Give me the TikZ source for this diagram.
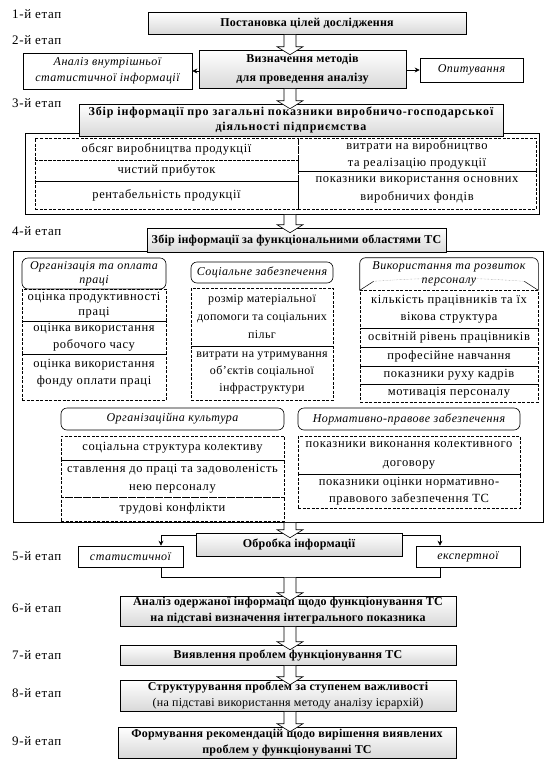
\documentclass[tikz,border=0pt]{standalone}
\usepackage{fontspec}
\setmainfont{Liberation Serif}
\usetikzlibrary{arrows.meta,calc}

% hollow block arrow between two points on the main axis
\newcommand{\blockarrow}[2]{%
  \draw[blockar] let \p1=(#1), \p2=(#2) in
    (\x1-6pt,\y1-0.5pt) -- (\x1-6pt,\y2+3pt) -- (\x1-13pt,\y2+3pt) -- (\x1,\y2-5pt)
    -- (\x1+13pt,\y2+3pt) -- (\x1+6pt,\y2+3pt) -- (\x1+6pt,\y1-0.5pt);}

\begin{document}
\begin{tikzpicture}[x=1pt, y=-1pt,
    gbox/.style={rectangle, draw, line width=0.6pt, top color=white, bottom color=gray!30, align=center, inner sep=1pt, font=\fontsize{12}{16}\selectfont\bfseries\addfontfeature{LetterSpace=2}},
    sidebox/.style={rectangle, draw, line width=0.6pt, fill=white, align=center, inner sep=1pt, font=\fontsize{12}{16}\selectfont\itshape\addfontfeature{LetterSpace=4}},
    frame/.style={rectangle, draw, line width=0.6pt, fill=white},
    dbox/.style={rectangle, draw, dash pattern=on 3pt off 1.5pt, line width=0.9pt, align=center, inner sep=1pt, font=\fontsize{12.5}{16}\selectfont\addfontfeature{LetterSpace=5}},
    hbox/.style={rectangle, draw, line width=0.6pt, rounded corners=6pt, align=center, inner sep=1pt, font=\fontsize{12}{14}\selectfont\itshape\addfontfeature{LetterSpace=4}},
    stage/.style={anchor=west, inner sep=0pt, font=\fontsize{13}{15}\selectfont\addfontfeature{LetterSpace=5}},
    conn/.style={line width=0.6pt, -{Stealth[length=5pt,width=5pt]}},
    blockar/.style={fill=white, line width=0.6pt}
]
\useasboundingbox (0,0) rectangle (551,763);
\coordinate (axis) at (290,0);

% stage labels
\node[stage] (s1) at (12,14) {1-й етап};
\node[stage] (s2) at (12,40) {2-й етап};
\node[stage] (s3) at (12,103) {3-й етап};
\node[stage] (s4) at (12,231) {4-й етап};
\node[stage] (s5) at (12,556) {5-й етап};
\node[stage] (s6) at (12,608) {6-й етап};
\node[stage] (s7) at (12,655) {7-й етап};
\node[stage] (s8) at (12,693) {8-й етап};
\node[stage] (s9) at (12,741) {9-й етап};

% stages 1 and 2
\node[gbox, minimum width=318pt, minimum height=22pt] (goal) at (307,23) {Постановка цілей дослідження};
\node[gbox, minimum width=207pt, minimum height=38pt, font=\fontsize{12}{19}\selectfont\bfseries\addfontfeature{LetterSpace=2}] (methods) at (302.5,69) {Визначення методів\\для проведення аналізу};
\node[sidebox, minimum width=169pt, minimum height=36pt] (internal) at (107.5,71) {Аналіз внутрішньої\\статистичної інформації};
\node[sidebox, minimum width=103pt, minimum height=24pt] (survey) at (471.5,70) {Опитування};
\draw[conn] (methods.west |- internal.east) -- (internal.east);
\draw[conn] (methods.east |- survey.west) -- (survey.west);

% stage 3
\node[frame, minimum width=514pt, minimum height=81pt] (frame3) at (282,173.5) {};
\node[gbox, minimum width=424pt, minimum height=32pt, font=\fontsize{12}{15}\selectfont\bfseries\addfontfeature{LetterSpace=7}] (general) at (291,120) {Збір інформації про загальні показники виробничо-господарської\\діяльності підприємства};
\node[dbox, minimum width=263pt, minimum height=22pt] (output) at (166.5,149) {обсяг виробництва продукції};
\node[dbox, minimum width=263pt, minimum height=21pt] (profit) at (166.5,170.5) {чистий прибуток};
\node[dbox, minimum width=263pt, minimum height=28pt] (return) at (166.5,195) {рентабельність продукції};
\node[dbox, minimum width=238pt, minimum height=33pt, font=\fontsize{12.5}{17}\selectfont\addfontfeature{LetterSpace=5}] (costs) at (417,154.5) {витрати на виробництво\\та реалізацію продукції};
\node[dbox, minimum width=238pt, minimum height=38pt, font=\fontsize{12.5}{18}\selectfont\addfontfeature{LetterSpace=5}] (assets) at (417,190) {показники використання основних\\виробничих фондів};

% stage 4
\node[frame, minimum width=530pt, minimum height=271pt] (frame4) at (278,386.5) {};
\node[gbox, minimum width=299pt, minimum height=24pt] (areas) at (296.5,240) {Збір інформації за функціональними областями ТС};

\node[hbox, minimum width=144pt, minimum height=31pt] (labour) at (94,273.5) {Організація та оплата\\праці};
\node[dbox, minimum width=144pt, minimum height=32pt, font=\fontsize{12.5}{15}\selectfont\addfontfeature{LetterSpace=5}] (prod) at (94,305) {оцінка продуктивності\\праці};
\node[dbox, minimum width=144pt, minimum height=33pt, font=\fontsize{12.5}{17}\selectfont\addfontfeature{LetterSpace=5}] (worktime) at (94,337.5) {оцінка використання\\робочого часу};
\node[dbox, minimum width=144pt, minimum height=46pt, font=\fontsize{12.5}{17}\selectfont\addfontfeature{LetterSpace=5}] (payfund) at (94,377) {оцінка використання\\фонду оплати праці\\[-6pt]\mbox{}};

\node[hbox, minimum width=142pt, minimum height=21pt] (social) at (262,272.5) {Соціальне забезпечення};
\node[dbox, minimum width=142pt, minimum height=58pt, font=\fontsize{12}{18}\selectfont\addfontfeature{LetterSpace=3}] (aid) at (262,317) {розмір матеріальної\\допомоги та соціальних\\пільг};
\node[dbox, minimum width=142pt, minimum height=54pt, font=\fontsize{12}{17}\selectfont\addfontfeature{LetterSpace=3}] (infra) at (262,373) {витрати на утримування\\об’єктів соціальної\\інфраструктури};

\node[hbox, draw=none, minimum width=178pt, minimum height=32pt] (staff) at (449,274) {Використання та розвиток\\персоналу};
\draw[line width=0.6pt, rounded corners=6pt] (staff.south west) -- (staff.north west) -- (staff.north east) -- (staff.south east);
\draw[line width=0.5pt] (staff.south west) -- ([xshift=14pt,yshift=9pt]staff.south west);
\draw[line width=0.5pt] (staff.south east) -- ([xshift=-14pt,yshift=9pt]staff.south east);
\draw[densely dotted, gray] ([xshift=14pt,yshift=9pt]staff.south west) to[bend left=4] ([xshift=-14pt,yshift=9pt]staff.south east);
\node[dbox, minimum width=178pt, minimum height=38pt, font=\fontsize{12.5}{17}\selectfont\addfontfeature{LetterSpace=5}] (age) at (449,309) {кількість працівників та їх\\вікова структура};
\node[dbox, minimum width=178pt, minimum height=19pt] (educ) at (449,337.5) {освітній рівень працівників};
\node[dbox, minimum width=178pt, minimum height=19pt] (train) at (449,356.5) {професійне навчання};
\node[dbox, minimum width=178pt, minimum height=18pt] (turnover) at (449,375) {показники руху кадрів};
\node[dbox, minimum width=178pt, minimum height=18pt] (motiv) at (449,393) {мотивація персоналу};

\node[hbox, minimum width=223pt, minimum height=22pt] (culture) at (172.5,419) {Організаційна культура};
\node[dbox, minimum width=223pt, minimum height=24pt] (struct) at (172.5,448) {соціальна структура колективу};
\node[dbox, minimum width=223pt, minimum height=37pt, font=\fontsize{12.5}{18}\selectfont\addfontfeature{LetterSpace=5}] (attit) at (172.5,478.5) {ставлення до праці та задоволеність\\нею персоналу};
\node[dbox, minimum width=223pt, minimum height=24pt] (conflict) at (172.5,509) {трудові конфлікти};

\node[hbox, minimum width=222pt, minimum height=22pt] (legal) at (409,419) {Нормативно-правове забезпечення};
\node[dbox, minimum width=222pt, minimum height=38pt, font=\fontsize{12.5}{19}\selectfont\addfontfeature{LetterSpace=5}] (agree) at (409,455) {показники виконання колективного\\договору};
\node[dbox, minimum width=222pt, minimum height=34pt, font=\fontsize{12.5}{17}\selectfont\addfontfeature{LetterSpace=5}] (norms) at (409,491) {показники оцінки нормативно-\\правового забезпечення ТС};

% stage 5
\node[gbox, minimum width=206pt, minimum height=23pt] (process) at (299,544.5) {Обробка інформації};
\node[sidebox, minimum width=105pt, minimum height=21pt] (stat) at (130.5,556.5) {статистичної};
\node[sidebox, minimum width=104pt, minimum height=21pt] (expert) at (468,556.5) {експертної};
\draw[conn] ([yshift=-3pt]process.north west) -| ([xshift=30.5pt]stat.north);
\draw[conn] ([yshift=-3pt]process.north east) -| ([xshift=-28pt]expert.north);
\draw[line width=0.6pt] ([xshift=30.5pt]stat.south) -- ++(0,-10pt) -| ([xshift=-28pt]expert.south);
\coordinate (merge) at (290,577);

% stages 6 - 9
\node[gbox, minimum width=336pt, minimum height=30pt] (analysis) at (288,611) {Аналіз одержаної інформації щодо функціонування ТС\\на підставі визначення інтегрального показника};
\node[gbox, minimum width=336pt, minimum height=20pt] (detect) at (288,655) {Виявлення проблем функціонування ТС};
\node[gbox, minimum width=336pt, minimum height=31pt] (rank) at (288,695.5) {Структурування проблем за ступенем важливості\\\mdseries(на підставі використання методу аналізу ієрархій)};
\node[gbox, minimum width=338pt, minimum height=31pt] (recom) at (287,742.5) {Формування рекомендацій щодо вирішення виявлених\\проблем у функціонуванні ТС};

% hollow arrows along the main axis
\blockarrow{goal.south -| axis}{methods.north -| axis}
\blockarrow{methods.south -| axis}{general.north -| axis}
\blockarrow{frame3.south -| axis}{areas.north -| axis}
\blockarrow{frame4.south -| axis}{process.north -| axis}
\blockarrow{merge}{analysis.north -| axis}
\blockarrow{analysis.south -| axis}{detect.north -| axis}
\blockarrow{detect.south -| axis}{rank.north -| axis}
\blockarrow{rank.south -| axis}{recom.north -| axis}

\end{tikzpicture}
\end{document}
